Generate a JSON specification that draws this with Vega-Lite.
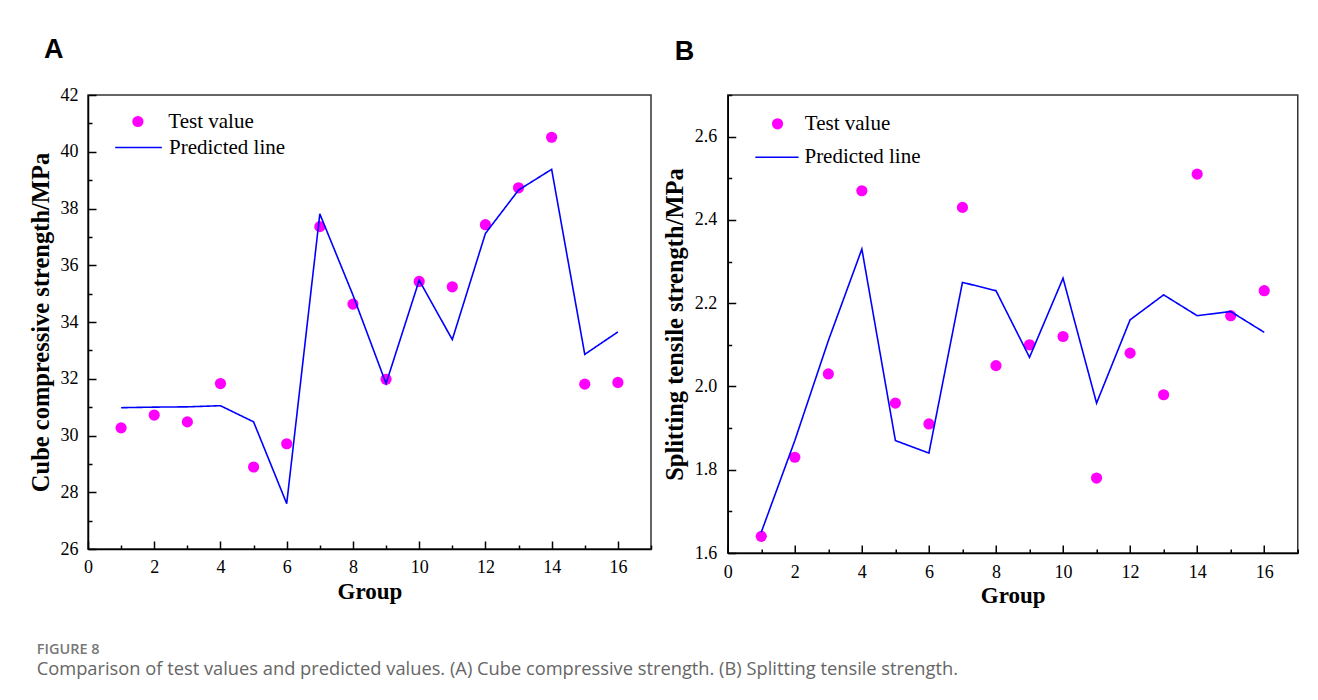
{
  "$schema": "https://vega.github.io/schema/vega-lite/v6.json",
  "background": "white",
  "padding": {"left": 27, "top": 35, "right": 0, "bottom": 0},
  "datasets": {
    "A": [
      {"group": 1, "test": 30.27, "pred": 30.98},
      {"group": 2, "test": 30.72, "pred": 31.0},
      {"group": 3, "test": 30.48, "pred": 31.01},
      {"group": 4, "test": 31.83, "pred": 31.05},
      {"group": 5, "test": 28.89, "pred": 30.48},
      {"group": 6, "test": 29.71, "pred": 27.6},
      {"group": 7, "test": 37.36, "pred": 37.81},
      {"group": 8, "test": 34.63, "pred": 34.95},
      {"group": 9, "test": 31.98, "pred": 31.83},
      {"group": 10, "test": 35.43, "pred": 35.47},
      {"group": 11, "test": 35.24, "pred": 33.38},
      {"group": 12, "test": 37.43, "pred": 37.12},
      {"group": 13, "test": 38.73, "pred": 38.65},
      {"group": 14, "test": 40.51, "pred": 39.38},
      {"group": 15, "test": 31.81, "pred": 32.86},
      {"group": 16, "test": 31.87, "pred": 33.65}
    ],
    "B": [
      {"group": 1, "test": 1.64, "pred": 1.65},
      {"group": 2, "test": 1.83, "pred": 1.87},
      {"group": 3, "test": 2.03, "pred": 2.11},
      {"group": 4, "test": 2.47, "pred": 2.33},
      {"group": 5, "test": 1.96, "pred": 1.87},
      {"group": 6, "test": 1.91, "pred": 1.84},
      {"group": 7, "test": 2.43, "pred": 2.25},
      {"group": 8, "test": 2.05, "pred": 2.23},
      {"group": 9, "test": 2.10, "pred": 2.07},
      {"group": 10, "test": 2.12, "pred": 2.26},
      {"group": 11, "test": 1.78, "pred": 1.96},
      {"group": 12, "test": 2.08, "pred": 2.16},
      {"group": 13, "test": 1.98, "pred": 2.22},
      {"group": 14, "test": 2.51, "pred": 2.17},
      {"group": 15, "test": 2.17, "pred": 2.18},
      {"group": 16, "test": 2.23, "pred": 2.13}
    ]
  },
  "title": {
    "text": "FIGURE 8",
    "subtitle": "Comparison of test values and predicted values. (A) Cube compressive strength. (B) Splitting tensile strength.",
    "orient": "bottom",
    "anchor": "start",
    "frame": "bounds",
    "offset": 35,
    "dx": 9,
    "font": "Open Sans",
    "fontSize": 14.5,
    "fontWeight": 600,
    "color": "#777777",
    "subtitleFont": "Open Sans",
    "subtitleFontSize": 18.3,
    "subtitleColor": "#666666",
    "subtitlePadding": 4
  },
  "spacing": 7.75,
  "resolve": {
    "scale": {"color": "independent", "strokeDash": "independent"},
    "legend": {"color": "independent", "strokeDash": "independent"}
  },
  "hconcat": [
    {
      "data": {"name": "A"},
      "transform": [{"fold": ["test", "pred"], "as": ["series", "value"]}],
      "width": 563,
      "height": 454,
      "title": {"text": "A", "anchor": "start", "frame": "group", "dx": -44, "offset": 22, "font": "Liberation Sans", "fontSize": 27, "fontWeight": "bold", "color": "black"},
      "encoding": {
        "x": {
          "field": "group", "type": "quantitative",
          "scale": {"domain": [0, 17], "nice": false, "zero": false},
          "axis": {
            "values": [0,1,2,3,4,5,6,7,8,9,10,11,12,13,14,15,16,17],
            "labelExpr": "datum.value % 2 === 0 && datum.value <= 16 ? datum.label : ''",
            "ticks": true,
            "tickSize": -8,
            "tickDash": {"condition": {"test": "datum.value % 2 === 0", "value": [20, 0]}, "value": [4, 20]},
            "tickColor": "black", "tickWidth": 1.5,
            "domainColor": "black", "domainWidth": 1.5,
            "grid": false, "labelFlush": false, "labelOverlap": false,
            "labelFont": "Liberation Serif", "labelFontSize": 18, "labelColor": "black", "labelPadding": 17,
            "title": "Group", "titleFont": "Liberation Serif", "titleFontSize": 23, "titleFontWeight": "bold", "titleColor": "black", "titlePadding": 4
          }
        },
        "y": {
          "field": "value", "type": "quantitative",
          "scale": {"domain": [26, 42], "nice": false, "zero": false},
          "axis": {
            "values": [26,27,28,29,30,31,32,33,34,35,36,37,38,39,40,41,42],
            "labelExpr": "datum.value % 2 === 0 ? datum.label : ''",
            "ticks": true,
            "tickSize": -8,
            "tickDash": {"condition": {"test": "datum.value % 2 === 0", "value": [20, 0]}, "value": [4, 20]},
            "tickColor": "black", "tickWidth": 1.5,
            "domainColor": "black", "domainWidth": 1.5,
            "grid": false, "labelFlush": false, "labelOverlap": false,
            "labelFont": "Liberation Serif", "labelFontSize": 18, "labelColor": "black", "labelPadding": 18,
            "title": "Cube compressive strength/MPa", "titleFont": "Liberation Serif", "titleFontSize": 24.5, "titleFontWeight": "bold", "titleColor": "black", "titlePadding": 6.5
          }
        }
      },
      "layer": [
        {
          "transform": [{"filter": "datum.series === 'test'"}],
          "mark": {"type": "point", "filled": true, "opacity": 1, "size": 125, "shape": "circle"},
          "encoding": {
            "color": {
              "datum": "Test value",
              "scale": {"range": ["#FF00FF"]},
              "legend": {"orient": "none", "legendX": 39.4, "legendY": 16, "title": null, "symbolType": "circle", "symbolSize": 125, "symbolOpacity": 1, "labelFont": "Liberation Serif", "labelFontSize": 21, "labelColor": "black", "labelOffset": 19.9, "padding": 0}
            }
          }
        },
        {
          "transform": [{"filter": "datum.series === 'pred'"}],
          "mark": {"type": "line", "color": "#0000FF", "strokeWidth": 1.6},
          "encoding": {
            "strokeDash": {
              "datum": "Predicted line",
              "scale": {"range": [[1, 0]]},
              "legend": {"orient": "none", "legendX": 26, "legendY": 28, "title": null, "symbolType": "stroke", "symbolSize": 2180, "symbolStrokeColor": "#0000FF", "symbolStrokeWidth": 1.6, "labelFont": "Liberation Serif", "labelFontSize": 21, "labelColor": "black", "labelOffset": 6, "padding": 0}
            }
          }
        }
      ]
    },
    {
      "data": {"name": "B"},
      "transform": [{"fold": ["test", "pred"], "as": ["series", "value"]}],
      "width": 570,
      "height": 458,
      "title": {"text": "B", "anchor": "start", "frame": "group", "dx": -53, "offset": 20, "font": "Liberation Sans", "fontSize": 27, "fontWeight": "bold", "color": "black"},
      "encoding": {
        "x": {
          "field": "group", "type": "quantitative",
          "scale": {"domain": [0, 17], "nice": false, "zero": false},
          "axis": {
            "values": [0,1,2,3,4,5,6,7,8,9,10,11,12,13,14,15,16,17],
            "labelExpr": "datum.value % 2 === 0 && datum.value <= 16 ? datum.label : ''",
            "ticks": true,
            "tickSize": -8,
            "tickDash": {"condition": {"test": "datum.value % 2 === 0", "value": [20, 0]}, "value": [4, 20]},
            "tickColor": "black", "tickWidth": 1.5,
            "domainColor": "black", "domainWidth": 1.5,
            "grid": false, "labelFlush": false, "labelOverlap": false,
            "labelFont": "Liberation Serif", "labelFontSize": 18, "labelColor": "black", "labelPadding": 18.5,
            "title": "Group", "titleFont": "Liberation Serif", "titleFontSize": 23, "titleFontWeight": "bold", "titleColor": "black", "titlePadding": 2.5
          }
        },
        "y": {
          "field": "value", "type": "quantitative",
          "scale": {"domain": [1.6, 2.7], "nice": false, "zero": false},
          "axis": {
            "values": [1.6,1.7,1.8,1.9,2.0,2.1,2.2,2.3,2.4,2.5,2.6,2.7],
            "format": ".1f",
            "labelExpr": "round(datum.value * 10) % 2 === 0 && datum.value < 2.65 ? datum.label : ''",
            "ticks": true,
            "tickSize": -8,
            "tickDash": {"condition": {"test": "round(datum.value * 10) % 2 === 0", "value": [20, 0]}, "value": [4, 20]},
            "tickColor": "black", "tickWidth": 1.5,
            "domainColor": "black", "domainWidth": 1.5,
            "grid": false, "labelFlush": false, "labelOverlap": false,
            "labelFont": "Liberation Serif", "labelFontSize": 18, "labelColor": "black", "labelPadding": 19,
            "title": "Splitting tensile strength/MPa", "titleFont": "Liberation Serif", "titleFontSize": 24.5, "titleFontWeight": "bold", "titleColor": "black", "titlePadding": 7.25
          }
        }
      },
      "layer": [
        {
          "transform": [{"filter": "datum.series === 'test'"}],
          "mark": {"type": "point", "filled": true, "opacity": 1, "size": 125, "shape": "circle"},
          "encoding": {
            "color": {
              "datum": "Test value",
              "scale": {"range": ["#FF00FF"]},
              "legend": {"orient": "none", "legendX": 39.3, "legendY": 18.3, "title": null, "symbolType": "circle", "symbolSize": 125, "symbolOpacity": 1, "labelFont": "Liberation Serif", "labelFontSize": 21, "labelColor": "black", "labelOffset": 16.8, "padding": 0}
            }
          }
        },
        {
          "transform": [{"filter": "datum.series === 'pred'"}],
          "mark": {"type": "line", "color": "#0000FF", "strokeWidth": 1.6},
          "encoding": {
            "strokeDash": {
              "datum": "Predicted line",
              "scale": {"range": [[1, 0]]},
              "legend": {"orient": "none", "legendX": 26.7, "legendY": 39.7, "title": null, "symbolType": "stroke", "symbolSize": 1875, "symbolStrokeColor": "#0000FF", "symbolStrokeWidth": 1.6, "labelFont": "Liberation Serif", "labelFontSize": 21, "labelColor": "black", "labelOffset": 5, "padding": 0}
            }
          }
        }
      ]
    }
  ],
  "config": {
    "view": {"stroke": "#333333", "strokeWidth": 1.5}
  }
}
